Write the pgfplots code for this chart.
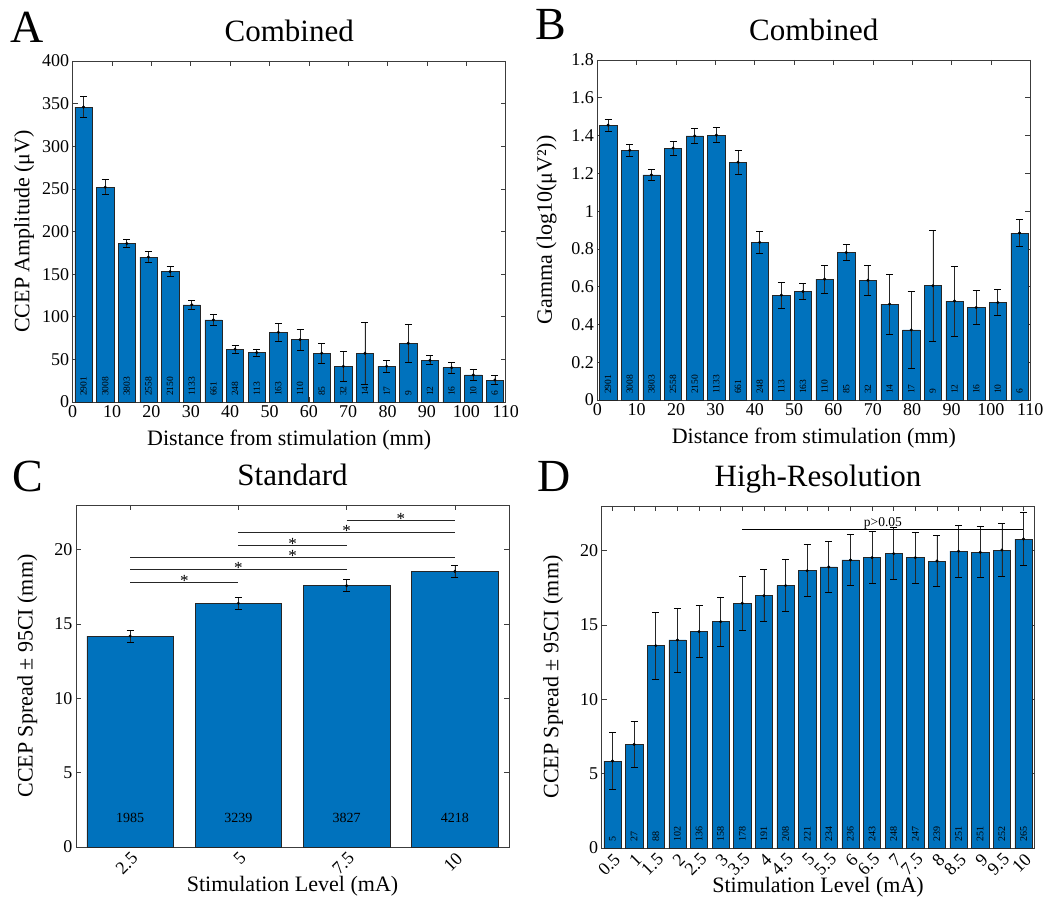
\documentclass[border=0pt]{standalone}
\usepackage{pgfplots}
\usepackage{pgfplotstable}
\pgfplotsset{compat=1.18}
\usepackage{fontspec}
\setmainfont{Liberation Serif}
\definecolor{mblue}{RGB}{0,114,189}
\definecolor{axgray}{RGB}{60,60,60}

\pgfplotstableread{
x y e n
2.75 346 12 2901
8.25 252 9 3008
13.75 186 5 3803
19.25 170 6.5 2558
24.75 153 6 2150
30.25 114 4.8 1133
35.75 96.3 6.3 661
41.25 61.9 4.7 248
46.75 58 4.3 113
52.25 81.8 10.8 163
57.75 73.2 12.2 110
63.25 57.2 12 85
68.75 41.9 17.6 32
74.25 57.2 36.8 14
79.75 41.9 6.7 17
85.25 68.9 22.7 9
90.75 48.9 5.3 12
96.25 40.3 6.3 16
101.75 31.7 6.3 10
107.25 25.8 5.5 6
}\tabA

\pgfplotstableread{
x y e n
2.75 1.455 0.031 2901
8.25 1.322 0.034 3008
13.75 1.192 0.030 3803
19.25 1.334 0.037 2558
24.75 1.398 0.040 2150
30.25 1.402 0.040 1133
35.75 1.259 0.063 661
41.25 0.835 0.058 248
46.75 0.555 0.069 113
52.25 0.574 0.043 163
57.75 0.640 0.073 110
63.25 0.781 0.041 85
68.75 0.634 0.080 32
74.25 0.508 0.158 14
79.75 0.371 0.202 17
85.25 0.605 0.294 9
90.75 0.524 0.186 12
96.25 0.490 0.088 16
101.75 0.516 0.068 10
107.25 0.884 0.073 6
}\tabB

\pgfplotstableread{
x y e n
1 14.19 0.40 1985
2 16.39 0.40 3239
3 17.58 0.40 3827
4 18.54 0.40 4218
}\tabC

\pgfplotstableread{
x y e n
1 5.85 1.93 5
2 6.97 1.53 27
3 13.61 2.24 88
4 13.99 2.15 102
5 14.55 1.74 136
6 15.22 1.67 158
7 16.46 1.79 178
8 16.97 1.76 191
9 17.65 1.73 208
10 18.65 1.74 221
11 18.90 1.69 234
12 19.37 1.74 236
13 19.53 1.76 243
14 19.80 1.74 248
15 19.53 1.70 247
16 19.30 1.70 239
17 19.96 1.73 251
18 19.89 1.72 251
19 20.04 1.76 252
20 20.78 1.78 265
}\tabD

\tikzset{sigstar/.style={anchor=base, inner sep=0pt, yshift=-4pt, font=\fontsize{17}{17}\selectfont}}

\pgfplotsset{
  panel/.style={
    scale only axis, width=433pt, height=341pt, anchor=south west,
    axis line style={axgray, line width=0.7pt},
    tick style={axgray, line width=0.7pt},
    tick align=inside, major tick length=5pt,
    /pgf/number format/assume math mode=true,
    /pgf/number format/fixed,
    tick label style={font=\fontsize{18}{20}\selectfont},
    label style={font=\fontsize{22}{24}\selectfont},
    title style={font=\fontsize{31}{34}\selectfont, at={(0.5,1)}, anchor=base, yshift=13pt},
    xlabel style={at={(axis description cs:0.5,0)}, anchor=base, yshift=-44pt},
    ylabel style={anchor=base, rotate=0},
    clip=false,
  },
  rotlabels/.style={xticklabel style={xshift=7pt, yshift=-6pt, rotate=45, anchor=east}},
  bars/.style={ybar, bar shift=0pt, bar width=#1, fill=mblue, draw=black!85, line width=0.5pt,
    error bars/.cd, y dir=both, y explicit,
    error bar style={black!85, line width=0.7pt},
    error mark options={rotate=90, mark size=3.5pt, line width=0.7pt, black}},
  dots/.style={only marks, mark=*, mark size=1.3pt, black},
  counts/.style={draw=none, mark=none, nodes near coords, point meta=explicit symbolic,
    every node near coord/.style={rotate=90, anchor=west, inner xsep=6pt, inner ysep=0pt,
      font=\fontsize{#1}{#1}\selectfont, black}},
}

\begin{document}
\begin{tikzpicture}
\useasboundingbox (0,0) rectangle (1050pt,903pt);

% Panel A
\begin{axis}[panel, at={(72.7pt,501pt)},
  xmin=0, xmax=110, ymin=0, ymax=400,
  xtick={0,10,...,110}, ytick={0,50,...,400},
  title={Combined},
  xlabel={Distance from stimulation (mm)},
  ylabel={CCEP Amplitude (μV)},
  ylabel style={at={(axis description cs:-0.100,0.5)}},
]
\addplot[bars=4.4] table[x=x, y=y, y error=e] {\tabA};
\addplot[dots] table[x=x, y=y] {\tabA};
\addplot[counts=9.5] table[x=x, y expr=0, meta=n] {\tabA};
\end{axis}

% Panel B
\begin{axis}[panel, at={(597.3pt,503pt)}, height=340pt,
  xmin=0, xmax=110, ymin=0, ymax=1.8,
  xtick={0,10,...,110}, ytick={0,0.2,...,1.8},
  title={Combined},
  xlabel={Distance from stimulation (mm)},
  ylabel={Gamma (log10(μV²))},
  ylabel style={at={(axis description cs:-0.105,0.5)}},
]
\addplot[bars=4.4] table[x=x, y=y, y error=e] {\tabB};
\addplot[dots] table[x=x, y=y] {\tabB};
\addplot[counts=9.5] table[x=x, y expr=0, meta=n] {\tabB};
\end{axis}

% Panel C
\begin{axis}[panel, rotlabels, at={(76pt,56pt)}, height=342pt,
  xmin=0.5, xmax=4.5, ymin=0, ymax=23,
  xtick={1,2,3,4}, xticklabels={2.5,5,7.5,10},
  ytick={0,5,...,20},
  title={Standard},
  xlabel={Stimulation Level (mA)},
  ylabel={CCEP Spread ± 95CI (mm)},
  ylabel style={at={(axis description cs:-0.100,0.5)}},
]
\addplot[bars=0.8] table[x=x, y=y, y error=e] {\tabC};
\addplot[dots] table[x=x, y=y] {\tabC};
\addplot[draw=none, mark=none, nodes near coords, point meta=explicit symbolic,
  every node near coord/.style={anchor=base, yshift=25pt, font=\fontsize{14}{14}\selectfont, black}]
  table[x=x, y expr=0, meta=n] {\tabC};
\addplot[black!85, line width=1pt] coordinates {(1,17.80) (2,17.80)};
\addplot[black!85, line width=1pt] coordinates {(1,18.63) (3,18.63)};
\addplot[black!85, line width=1pt] coordinates {(1,19.46) (4,19.46)};
\addplot[black!85, line width=1pt] coordinates {(2,20.29) (3,20.29)};
\addplot[black!85, line width=1pt] coordinates {(2,21.12) (4,21.12)};
\addplot[black!85, line width=1pt] coordinates {(3,21.95) (4,21.95)};
\node[sigstar] at (axis cs:1.5,17.80) {*};
\node[sigstar] at (axis cs:2,18.63) {*};
\node[sigstar] at (axis cs:2.5,19.46) {*};
\node[sigstar] at (axis cs:2.5,20.29) {*};
\node[sigstar] at (axis cs:3,21.12) {*};
\node[sigstar] at (axis cs:3.5,21.95) {*};
\end{axis}

% Panel D
\begin{axis}[panel, rotlabels, at={(601.7pt,55pt)}, height=342pt, width=432.6pt,
  xmin=0.5, xmax=20.5, ymin=0, ymax=23,
  xtick={1,...,20},
  xticklabels={0.5,1,1.5,2,2.5,3,3.5,4,4.5,5,5.5,6,6.5,7,7.5,8,8.5,9,9.5,10},
  ytick={0,5,...,20},
  title={High-Resolution},
  xlabel={Stimulation Level (mA)},
  ylabel={CCEP Spread ± 95CI (mm)},
  ylabel style={at={(axis description cs:-0.100,0.5)}},
]
\addplot[bars=0.8] table[x=x, y=y, y error=e] {\tabD};
\addplot[dots] table[x=x, y=y] {\tabD};
\addplot[counts=10] table[x=x, y expr=0, meta=n] {\tabD};
\addplot[black, line width=1pt] coordinates {(7,21.41) (20,21.41)};
\node[anchor=base, inner sep=0pt, yshift=3pt, font=\fontsize{13.5}{14}\selectfont] at (axis cs:13.5,21.41) {p>0.05};
\end{axis}

% Panel letters
\node[anchor=base west, inner sep=0pt, font=\fontsize{46}{46}\selectfont] at (10pt,860pt) {A};
\node[anchor=base west, inner sep=0pt, font=\fontsize{46}{46}\selectfont] at (535pt,863pt) {B};
\node[anchor=base west, inner sep=0pt, font=\fontsize{46}{46}\selectfont] at (12pt,411pt) {C};
\node[anchor=base west, inner sep=0pt, font=\fontsize{46}{46}\selectfont] at (537pt,411pt) {D};
\end{tikzpicture}
\end{document}
